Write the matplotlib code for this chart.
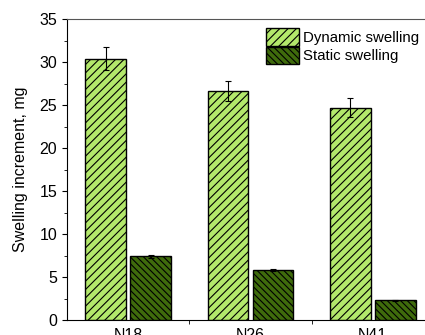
import matplotlib
matplotlib.use("Agg")
import matplotlib.pyplot as plt
import numpy as np
from matplotlib.ticker import MultipleLocator, FixedLocator

plt.rcParams['font.family'] = ['Liberation Sans', 'DejaVu Sans']
plt.rcParams['hatch.linewidth'] = 0.8

samples = ['N18', 'N26', 'N41']
dynamic = [30.4, 26.6, 24.7]
dynamic_err = [1.3, 1.15, 1.1]
static = [7.4, 5.8, 2.3]
static_err = [0.2, 0.1, 0.08]

fig = plt.figure(figsize=(4.25, 3.35), dpi=100)
ax = fig.add_axes([67/425, 15/335, 367/425, 301/335])

x = np.arange(1, len(samples) + 1)
w = 0.333
off = 0.183
ax.bar(x - off, dynamic, w, yerr=dynamic_err, color='#b3e86b', edgecolor='black',
       linewidth=1.0, hatch='////', label='Dynamic swelling',
       error_kw=dict(ecolor='black', elinewidth=0.8, capsize=2.2, capthick=0.8))
ax.bar(x + off, static, w, yerr=static_err, color='#3f6b0c', edgecolor='black',
       linewidth=1.0, hatch='\\\\\\\\\\', label='Static swelling',
       error_kw=dict(ecolor='black', elinewidth=0.8, capsize=2.2, capthick=0.8))

ax.set_xlim(0.5, 3.5)
ax.set_ylim(0, 35)
ax.set_xticks(x)
ax.set_xticklabels(samples)
ax.xaxis.set_minor_locator(FixedLocator([1.5, 2.5]))
ax.yaxis.set_major_locator(MultipleLocator(5))
ax.yaxis.set_minor_locator(MultipleLocator(2.5))
ax.tick_params(axis='x', which='major', length=0, labelsize=11.5, pad=6)
ax.tick_params(axis='x', which='minor', length=3)
ax.tick_params(axis='y', which='major', length=3.5, labelsize=11.5)
ax.tick_params(axis='y', which='minor', length=2)
ax.set_ylabel('Swelling increment, mg', fontsize=11.5, labelpad=8)
for s in ['top', 'right']:
    ax.spines[s].set_color('#555555')
ax.legend(loc='upper left', bbox_to_anchor=(0.542, 0.97), frameon=False, fontsize=10.8,
          handlelength=2.2, handleheight=1.45, handletextpad=0.25, labelspacing=0.05,
          borderaxespad=0, borderpad=0)

fig.savefig('out.png', dpi=100)
